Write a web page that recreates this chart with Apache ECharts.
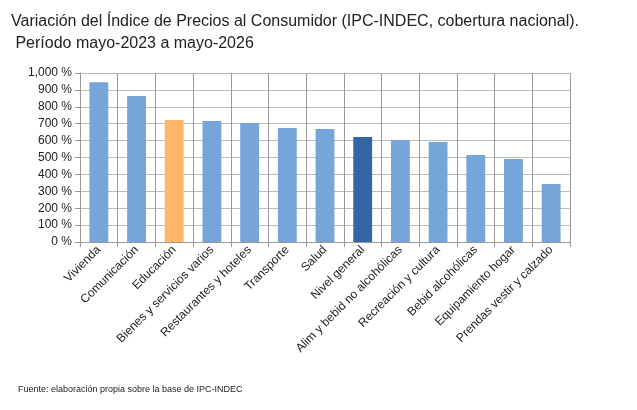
<!DOCTYPE html>
<html><head><meta charset="utf-8">
<script src="https://cdn.jsdelivr.net/npm/echarts@6/dist/echarts.min.js"></script>
<style>body{margin:0;background:#fff}#chart{width:637px;height:410px}</style>
</head><body><div id="chart"></div>
<script>
var categories = ["Vivienda", "Comunicación", "Educación", "Bienes y servicios varios", "Restaurantes y hoteles", "Transporte", "Salud", "Nivel general", "Alim y bebid no alcohólicas", "Recreación y cultura", "Bebid alcohólicas", "Equipamiento hogar", "Prendas vestir y calzado"];
var values = [945, 864, 722, 716, 704, 675, 669, 621, 604, 592, 515, 491, 343];
var colors = ["#76a5d9", "#76a5d9", "#ffb666", "#76a5d9", "#76a5d9", "#76a5d9", "#76a5d9", "#3466a6", "#76a5d9", "#76a5d9", "#76a5d9", "#76a5d9", "#76a5d9"];

var chart = echarts.init(document.getElementById('chart'));
chart.setOption({
    animation: false,
    title: {
        text: 'Variación del Índice de Precios al Consumidor (IPC-INDEC, cobertura nacional).\n Período mayo-2023 a mayo-2026',
        left: 6, top: 6,
        textStyle: {fontFamily: 'Liberation Sans', fontWeight: 'normal', fontSize: 16, color: '#222', lineHeight: 22}
    },
    graphic: [{type: 'text', left: 18, top: 385, style: {text: 'Fuente: elaboración propia sobre la base de IPC-INDEC', font: '9px Liberation Sans', fill: '#222'}}],
    grid: {left: 80, right: 67, top: 73, bottom: 168, containLabel: false},
    xAxis: {
        type: 'category', data: categories,
        axisLine: {lineStyle: {color: '#999'}},
        axisTick: {show: true, lineStyle: {color: '#999'}},
        splitLine: {show: true, lineStyle: {color: '#999'}},
        axisLabel: {rotate: 45, interval: 0, fontFamily: 'Liberation Sans', fontSize: 12, color: '#222', margin: 6}
    },
    yAxis: {
        type: 'value', min: 0, max: 1000, interval: 100,
        axisLine: {show: true, lineStyle: {color: '#999'}},
        axisTick: {show: true, lineStyle: {color: '#999'}},
        splitLine: {lineStyle: {color: '#bbb'}},
        axisLabel: {formatter: '{value} %', fontFamily: 'Liberation Sans', fontSize: 12, color: '#222'}
    },
    series: [{
        type: 'bar', barWidth: '50%',
        data: values.map(function (v, i) { return {value: v, itemStyle: {color: colors[i]}}; })
    }]
});
</script></body></html>
